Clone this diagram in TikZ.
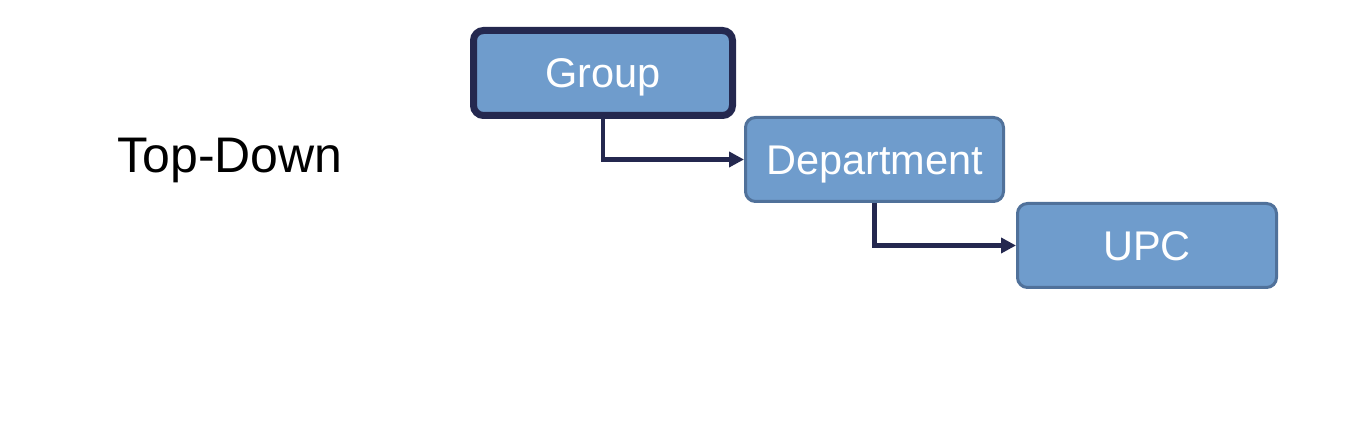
\documentclass[tikz,border=0pt]{standalone}
\usepackage{fontspec}
\setmainfont{Liberation Sans}
\usetikzlibrary{arrows.meta}
\definecolor{boxfill}{HTML}{6F9CCC}
\definecolor{boxline}{HTML}{50719A}
\definecolor{navy}{HTML}{24284F}
\tikzset{
  levelbox/.style={draw=boxline, line width=3pt, fill=boxfill, rounded corners=10pt,
    minimum width=258pt, minimum height=84pt, inner sep=0pt, text=white,
    font=\fontsize{41.5}{50}\selectfont, text height=29.7pt, text depth=0pt},
  conn/.style={draw=navy, line width=4.5pt, -{Triangle[length=15pt,width=15pt]}}
}
\begin{document}
\begin{tikzpicture}[x=1pt,y=1pt]
\useasboundingbox (0,0) rectangle (1352,430);
\node[font=\fontsize{50}{60}\selectfont, text height=35.8pt, text depth=0pt, inner sep=0pt] (title) at (230,275) {Top-Down};
\node[levelbox, draw=navy, line width=7pt, minimum width=259pt, minimum height=85pt] (group) at (603,357) {Group};
\node[levelbox] (dept) at (874.5,270.5) {Department};
\node[levelbox, minimum width=259pt] (upc) at (1147,184.5) {UPC};
\draw[conn] (group.south) |- (dept.west);
\draw[conn] (dept.south) |- (upc.west);
\end{tikzpicture}
\end{document}
